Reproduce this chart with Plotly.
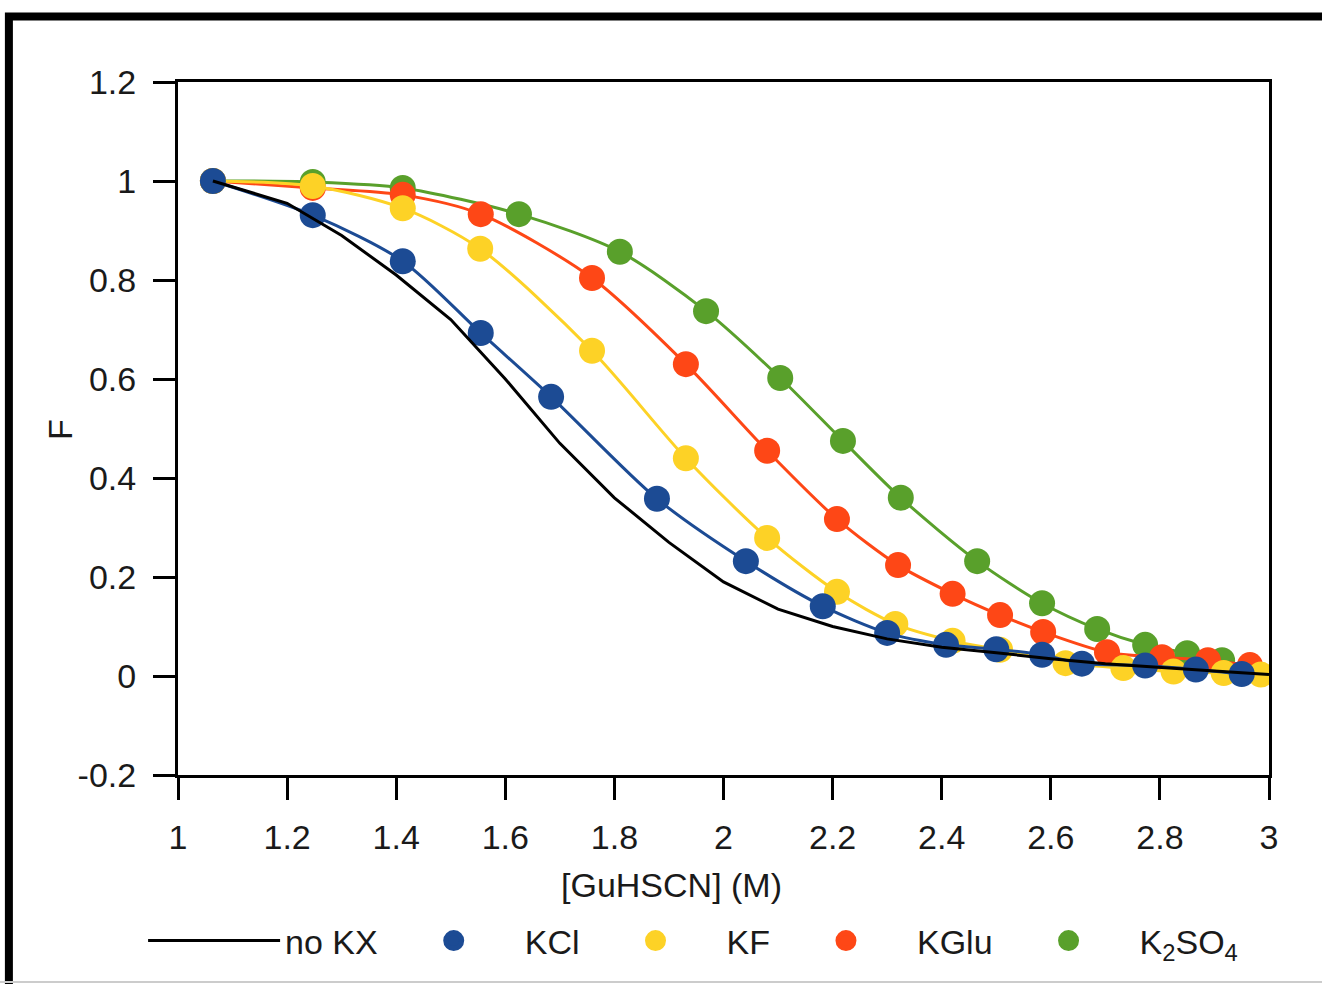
import plotly.graph_objects as go

# ---------------- data ----------------
x_tick_vals = [1.0, 1.2, 1.4, 1.6, 1.8, 2.0, 2.2, 2.4, 2.6, 2.8, 3.0]
x_tick_text = ["1", "1.2", "1.4", "1.6", "1.8", "2", "2.2", "2.4", "2.6", "2.8", "3"]
y_tick_vals = [-0.2, 0.0, 0.2, 0.4, 0.6, 0.8, 1.0, 1.2]
y_tick_text = ["-0.2", "0", "0.2", "0.4", "0.6", "0.8", "1", "1.2"]

nokx_x = [1.064, 1.2, 1.3, 1.4, 1.5, 1.6, 1.7, 1.8, 1.9, 2.0, 2.1, 2.2, 2.3, 2.4, 2.5, 2.6, 2.7, 2.8, 2.9, 3.0]
nokx_y = [1.0, 0.955, 0.89, 0.81, 0.72, 0.60, 0.47, 0.36, 0.27, 0.19, 0.135, 0.10, 0.075, 0.058, 0.047, 0.035, 0.025, 0.017, 0.010, 0.003]

kcl_x = [1.064, 1.247, 1.412, 1.555, 1.684, 1.878, 2.041, 2.182, 2.30, 2.408, 2.50, 2.584, 2.657, 2.773, 2.866, 2.95]
kcl_y = [1.0, 0.931, 0.838, 0.693, 0.564, 0.358, 0.232, 0.141, 0.087, 0.063, 0.054, 0.043, 0.025, 0.021, 0.013, 0.004]

kf_x = [1.064, 1.247, 1.412, 1.554, 1.759, 1.931, 2.08, 2.208, 2.315, 2.42, 2.507, 2.627, 2.733, 2.825, 2.917, 2.985]
kf_y = [1.0, 0.99, 0.945, 0.863, 0.657, 0.44, 0.279, 0.17, 0.105, 0.071, 0.053, 0.026, 0.016, 0.009, 0.006, 0.003]

kglu_x = [1.064, 1.247, 1.412, 1.555, 1.759, 1.931, 2.08, 2.208, 2.32, 2.42, 2.507, 2.586, 2.703, 2.804, 2.888, 2.965]
kglu_y = [1.0, 0.986, 0.972, 0.933, 0.804, 0.630, 0.455, 0.317, 0.224, 0.166, 0.123, 0.089, 0.048, 0.038, 0.032, 0.022]

k2so4_x = [1.064, 1.247, 1.412, 1.625, 1.81, 1.968, 2.104, 2.219, 2.325, 2.465, 2.584, 2.685, 2.773, 2.85, 2.914]
k2so4_y = [1.0, 0.998, 0.986, 0.933, 0.857, 0.737, 0.602, 0.475, 0.36, 0.232, 0.147, 0.095, 0.063, 0.046, 0.032]

series = [
    ("K<sub>2</sub>SO<sub>4</sub>", k2so4_x, k2so4_y, "#59A02B"),
    ("KGlu", kglu_x, kglu_y, "#FE4716"),
    ("KF", kf_x, kf_y, "#FDD226"),
    ("KCl", kcl_x, kcl_y, "#1C4B94"),
]

FONT = "Liberation Sans, Arial, sans-serif"
TXT = "#1a1a1a"
FS = 34

fig = go.Figure()

for name, xs, ys, col in series:
    fig.add_trace(go.Scatter(
        x=xs, y=ys, mode="lines+markers", name=name, showlegend=False,
        line=dict(color=col, width=3, shape="spline", smoothing=0.8),
        marker=dict(color=col, size=26, line=dict(width=0)),
    ))
    # legend entry shown as dot only
    fig.add_trace(go.Scatter(
        x=[None], y=[None], mode="markers", name=name,
        marker=dict(color=col, size=16, line=dict(color=col, width=5)),
    ))

fig.add_trace(go.Scatter(
    x=nokx_x, y=nokx_y, mode="lines", name="no KX",
    line=dict(color="black", width=3),
))

fig.update_layout(
    width=1322, height=984,
    margin=dict(l=178, r=53, t=82, b=209),
    paper_bgcolor="white", plot_bgcolor="white",
    font=dict(family=FONT, size=FS, color=TXT),
    showlegend=True,
    legend=dict(
        orientation="h", traceorder="reversed",
        x=-0.032, xanchor="left", y=-0.2395, yanchor="middle",
        font=dict(family=FONT, size=FS, color=TXT),
        itemwidth=132, bgcolor="rgba(0,0,0,0)",
    ),
    xaxis=dict(
        range=[1, 3], tickmode="array", tickvals=x_tick_vals, ticktext=x_tick_text,
        ticks="outside", ticklen=22, tickwidth=3, tickcolor="black",
        showline=True, linewidth=3, linecolor="black", mirror=True,
        showgrid=False, zeroline=False, ticklabelstandoff=8,
        tickfont=dict(family=FONT, size=FS, color=TXT),
    ),
    yaxis=dict(
        range=[-0.2, 1.2], tickmode="array", tickvals=y_tick_vals, ticktext=y_tick_text,
        ticks="outside", ticklen=22, tickwidth=3, tickcolor="black",
        showline=True, linewidth=3, linecolor="black", mirror=True,
        showgrid=False, zeroline=False, ticklabelstandoff=10,
        tickfont=dict(family=FONT, size=FS, color=TXT),
    ),
    annotations=[
        dict(text="[GuHSCN] (M)", xref="paper", yref="paper", x=0.452, y=-0.1587,
             xanchor="center", yanchor="middle", showarrow=False,
             font=dict(family=FONT, size=FS, color=TXT)),
        dict(text="F", xref="paper", yref="paper", x=-0.108, y=0.498,
             xanchor="center", yanchor="middle", showarrow=False, textangle=-90,
             font=dict(family=FONT, size=FS, color=TXT)),
    ],
    shapes=[
        dict(type="rect", xref="paper", yref="paper", x0=-0.155, x1=1.3, y0=-0.5, y1=1.0945,
             line=dict(color="black", width=8), fillcolor="rgba(0,0,0,0)", layer="above"),
        dict(type="line", xref="paper", yref="paper", x0=-0.2, x1=1.1, y0=-0.2987, y1=-0.2987,
             line=dict(color="#cccccc", width=2)),
    ],
)

fig.write_html("out.html")
